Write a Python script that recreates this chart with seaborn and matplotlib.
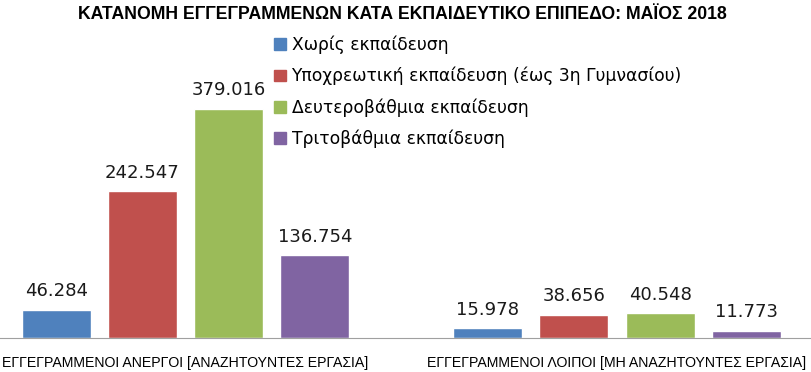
import pandas as pd
import matplotlib.pyplot as plt
import seaborn as sns
from matplotlib.patches import Patch

# Δεδομένα
groups = ["ΕΓΓΕΓΡΑΜΜΕΝΟΙ ΑΝΕΡΓΟΙ [ΑΝΑΖΗΤΟΥΝΤΕΣ ΕΡΓΑΣΙΑ]",
          "ΕΓΓΕΓΡΑΜΜΕΝΟΙ ΛΟΙΠΟΙ [ΜΗ ΑΝΑΖΗΤΟΥΝΤΕΣ ΕΡΓΑΣΙΑ]"]
levels = ["Χωρίς εκπαίδευση",
          "Υποχρεωτική εκπαίδευση (έως 3η Γυμνασίου)",
          "Δευτεροβάθμια εκπαίδευση",
          "Τριτοβάθμια εκπαίδευση"]
unemployed = [46284, 242547, 379016, 136754]
others = [15978, 38656, 40548, 11773]
colors = ["#4F81BD", "#C0504D", "#9BBB59", "#8064A2"]

rows = []
for lvl, a, b in zip(levels, unemployed, others):
    rows.append({"group": groups[0], "level": lvl, "value": a})
    rows.append({"group": groups[1], "level": lvl, "value": b})
df = pd.DataFrame(rows)

sns.set_style("white")
plt.rcParams["font.family"] = ["Liberation Sans", "DejaVu Sans"]
plt.rcParams["text.color"] = "black"
plt.rcParams["xtick.color"] = "black"

fig = plt.figure(figsize=(8.12, 3.72), dpi=100)
ax = fig.add_axes([0, 0.0914, 1, 0.9086])

sns.barplot(data=df, x="group", y="value", hue="level", order=groups,
            hue_order=levels, palette=colors, width=0.8, gap=0.2,
            saturation=1, ax=ax, legend=False)

for cont in ax.containers:
    ax.bar_label(cont, labels=[f"{v:,.0f}".replace(",", ".") for v in cont.datavalues],
                 padding=7, fontsize=13, family=["DejaVu Sans"], color="#1a1a1a")

ax.set_xlim(-0.43, 1.452)
ax.set_ylim(0, 559400)
ax.set_xlabel("")
ax.set_ylabel("")
ax.set_yticks([])
ax.tick_params(axis="x", length=0, pad=13, labelsize=10.2)
for s in ["top", "left", "right"]:
    ax.spines[s].set_visible(False)
ax.spines["bottom"].set_color("#A0A0A0")

handles = [Patch(color=c, label=l) for c, l in zip(colors, levels)]
fig.legend(handles=handles, loc="upper left", bbox_to_anchor=(0.318, 0.945),
           frameon=False, handlelength=0.7, handleheight=0.7,
           handletextpad=0.35, labelspacing=0.74,
           prop={"family": ["DejaVu Sans"], "size": 12.3})

fig.text(0.495, 0.985, "ΚΑΤΑΝΟΜΗ ΕΓΓΕΓΡΑΜΜΕΝΩΝ ΚΑΤΑ ΕΚΠΑΙΔΕΥΤΙΚΟ ΕΠΙΠΕΔΟ: ΜΑΪΟΣ 2018",
         ha="center", va="top", fontsize=12.7, fontweight="bold", color="black")

fig.savefig("out.png", dpi=100)
